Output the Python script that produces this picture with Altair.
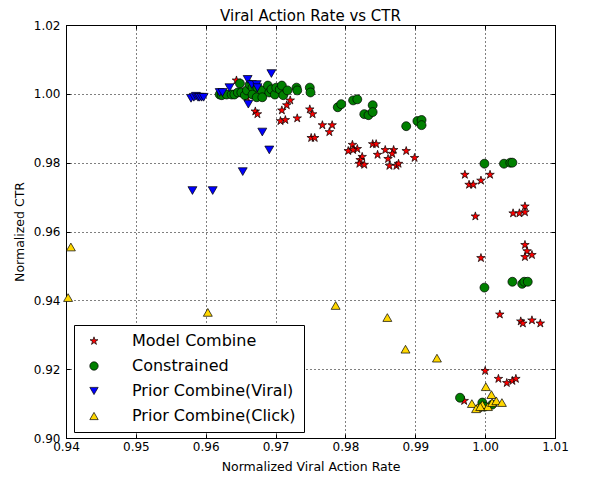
import altair as alt
import pandas as pd

series_names = ["Model Combine", "Constrained", "Prior Combine(Viral)", "Prior Combine(Click)"]

model_x = [0.9644, 0.9659, 0.9671, 0.9674, 0.9721, 0.9716, 0.9709, 0.9707, 0.9714, 0.9731,
           0.9749, 0.9753, 0.9767, 0.9781, 0.9777, 0.9751, 0.9756, 0.9810, 0.9804, 0.9817,
           0.9811, 0.9824, 0.9821, 0.9820, 0.9827, 0.9839, 0.9844, 0.9846, 0.9857, 0.9869,
           0.9867, 0.9861, 0.9863, 0.9873, 0.9876, 0.9887, 0.9899, 0.9971, 0.9977, 0.9983,
           0.9994, 1.0007, 0.9986, 1.0040, 1.0049, 1.0057, 1.0057, 1.0057, 1.0060, 1.0057,
           1.0067, 0.9994, 1.0021, 1.0051, 1.0054, 1.0067, 1.0079, 1.0000, 1.0019, 1.0031,
           1.0039, 1.0044, 0.9970]
model_y = [1.0039, 0.9990, 0.9949, 0.9941, 0.9981, 0.9967, 0.9952, 0.9921, 0.9924, 0.9929,
           0.9955, 0.9941, 0.9909, 0.9909, 0.9889, 0.9872, 0.9872, 0.9852, 0.9834, 0.9840,
           0.9837, 0.9817, 0.9808, 0.9797, 0.9794, 0.9854, 0.9854, 0.9823, 0.9837, 0.9837,
           0.9826, 0.9811, 0.9791, 0.9791, 0.9797, 0.9834, 0.9814, 0.9765, 0.9736, 0.9736,
           0.9748, 0.9765, 0.9644, 0.9653, 0.9653, 0.9656, 0.9673, 0.9561, 0.9543, 0.9526,
           0.9532, 0.9523, 0.9359, 0.9339, 0.9333, 0.9342, 0.9333, 0.9195, 0.9172, 0.9160,
           0.9166, 0.9172, 0.9108]

constrained_x = [0.9620, 0.9623, 0.9630, 0.9637, 0.9641, 0.9646, 0.9649, 0.9651, 0.9656, 0.9659,
                 0.9663, 0.9667, 0.9667, 0.9673, 0.9674, 0.9680, 0.9681, 0.9689, 0.9691, 0.9694,
                 0.9699, 0.9701, 0.9706, 0.9709, 0.9711, 0.9717, 0.9730, 0.9731, 0.9749, 0.9750,
                 0.9789, 0.9794, 0.9811, 0.9817, 0.9827, 0.9833, 0.9839, 0.9839, 0.9887, 0.9903,
                 0.9909, 0.9909, 0.9999, 1.0027, 1.0036, 1.0039, 1.0039, 0.9999, 1.0053, 1.0056,
                 1.0061, 0.9964, 0.9996, 0.9999, 1.0010]
constrained_y = [0.9998, 0.9996, 0.9998, 0.9998, 0.9998, 1.0004, 1.0030, 1.0004, 0.9996, 1.0010,
                 1.0027, 1.0018, 0.9998, 0.9990, 1.0018, 1.0010, 0.9990, 1.0024, 1.0004, 1.0013,
                 0.9998, 1.0018, 1.0013, 1.0024, 0.9996, 1.0010, 1.0018, 1.0010, 1.0018, 1.0004,
                 0.9961, 0.9970, 0.9981, 0.9984, 0.9941, 0.9938, 0.9967, 0.9947, 0.9906, 0.9921,
                 0.9924, 0.9909, 0.9797, 0.9797, 0.9800, 0.9800, 0.9454, 0.9437, 0.9448, 0.9454,
                 0.9454, 0.9117, 0.9103, 0.9091, 0.9097]

viral_x = [0.9579, 0.9583, 0.9586, 0.9589, 0.9591, 0.9594, 0.9597, 0.9620, 0.9624, 0.9634,
           0.9660, 0.9666, 0.9673, 0.9674, 0.9661, 0.9681, 0.9691, 0.9694, 0.9581, 0.9610,
           0.9653]
viral_y = [0.9987, 0.9990, 0.9993, 0.9990, 0.9990, 0.9990, 0.9990, 1.0004, 1.0004, 1.0018,
           1.0042, 1.0027, 1.0027, 1.0018, 0.9970, 0.9889, 0.9837, 1.0059, 0.9719, 0.9719,
           0.9774]

click_x = [0.9407, 0.9403, 0.9603, 0.9786, 0.9860, 0.9886, 0.9931, 1.0001, 1.0009, 0.9981,
           0.9989, 0.9996, 1.0004, 1.0010, 1.0016, 1.0024, 0.9987, 0.9993]
click_y = [0.9555, 0.9408, 0.9365, 0.9385, 0.9350, 0.9258, 0.9232, 0.9149, 0.9126, 0.9100,
           0.9088, 0.9097, 0.9091, 0.9103, 0.9108, 0.9103, 0.9085, 0.9091]

x_ticks = [0.94, 0.95, 0.96, 0.97, 0.98, 0.99, 1.00, 1.01]
y_ticks = [0.90, 0.92, 0.94, 0.96, 0.98, 1.00, 1.02]

rows = []
for name, xs, ys in zip(series_names,
                        [model_x, constrained_x, viral_x, click_x],
                        [model_y, constrained_y, viral_y, click_y]):
    for a, b in zip(xs, ys):
        rows.append({"series": name, "x": a, "y": b})
df = pd.DataFrame(rows)

STAR = ("M0,-1L0.2245,-0.309L0.951,-0.309L0.363,0.118L0.588,0.809L0,0.382"
        "L-0.588,0.809L-0.363,0.118L-0.951,-0.309L-0.2245,-0.309Z")
FONT = "DejaVu Sans"

xscale = alt.Scale(domain=[0.94, 1.01], nice=False, zero=False)
yscale = alt.Scale(domain=[0.90, 1.02], nice=False, zero=False)

points = alt.Chart(df).mark_point(
    filled=True, opacity=1, stroke="black", strokeWidth=0.7
).encode(
    x=alt.X("x:Q", scale=xscale, axis=alt.Axis(
        orient="bottom", values=x_ticks, format=".2f", title="Normalized Viral Action Rate",
        grid=True, gridDash=[1, 3], gridColor="black", gridOpacity=1, gridWidth=1,
        domain=False, ticks=True, tickSize=4, tickColor="black", offset=-4,
        labelPadding=3, labelFontSize=12, labelFont=FONT, labelColor="black",
        titleFontSize=12.5, titleFont=FONT, titleFontWeight="normal", titleColor="black",
        titlePadding=8, labelFlush=False)),
    y=alt.Y("y:Q", scale=yscale, axis=alt.Axis(
        orient="left", values=y_ticks, format=".2f", title="Normalized CTR",
        grid=True, gridDash=[1, 3], gridColor="black", gridOpacity=1, gridWidth=1,
        domain=False, ticks=True, tickSize=4, tickColor="black", offset=-4,
        labelPadding=6, labelFontSize=12, labelFont=FONT, labelColor="black",
        titleFontSize=12.5, titleFont=FONT, titleFontWeight="normal", titleColor="black",
        titlePadding=7, labelFlush=False)),
    color=alt.Color("series:N", scale=alt.Scale(
        domain=series_names, range=["#ff0000", "#008000", "#0000ff", "#ffd700"]),
        legend=alt.Legend(title=None)),
    shape=alt.Shape("series:N", scale=alt.Scale(
        domain=series_names, range=[STAR, "circle", "triangle-down", "triangle-up"]),
        legend=alt.Legend(title=None)),
    size=alt.value(80),
    order=alt.Order("idx:Q"),
).transform_window(idx="row_number()")

ticks_layer = alt.Chart(df).mark_point(opacity=0).encode(
    x=alt.X("x:Q", scale=xscale, axis=alt.Axis(
        orient="top", values=x_ticks, labels=False, grid=False, domain=False, title=None,
        ticks=True, tickSize=4, tickColor="black", offset=-4)),
    y=alt.Y("y:Q", scale=yscale, axis=alt.Axis(
        orient="right", values=y_ticks, labels=False, grid=False, domain=False, title=None,
        ticks=True, tickSize=4, tickColor="black", offset=-4)),
)

chart = alt.layer(points, ticks_layer).resolve_scale(
    x="independent", y="independent"
).properties(
    width=489, height=413,
    autosize=alt.AutoSizeParams(type="none"),
    padding={"left": 58, "top": 17, "right": 26, "bottom": 36},
    title=alt.TitleParams("Viral Action Rate vs CTR", fontSize=15, font=FONT,
                          fontWeight="normal", color="black", offset=3, anchor="middle",
                          dy=8),
    background="white",
).configure_view(
    stroke="black", strokeWidth=1
).configure_legend(
    orient="none", legendX=8, legendY=300, direction="vertical",
    fillColor="white", strokeColor="black", padding=8, cornerRadius=0,
    labelFontSize=16, labelFont=FONT, labelColor="black", labelOffset=30,
    labelLimit=300, rowPadding=9, symbolSize=70, symbolStrokeColor="black",
    symbolStrokeWidth=0.7, symbolOffset=4,
)

chart.save("out.html", embed_options={"renderer": "svg", "actions": False})
